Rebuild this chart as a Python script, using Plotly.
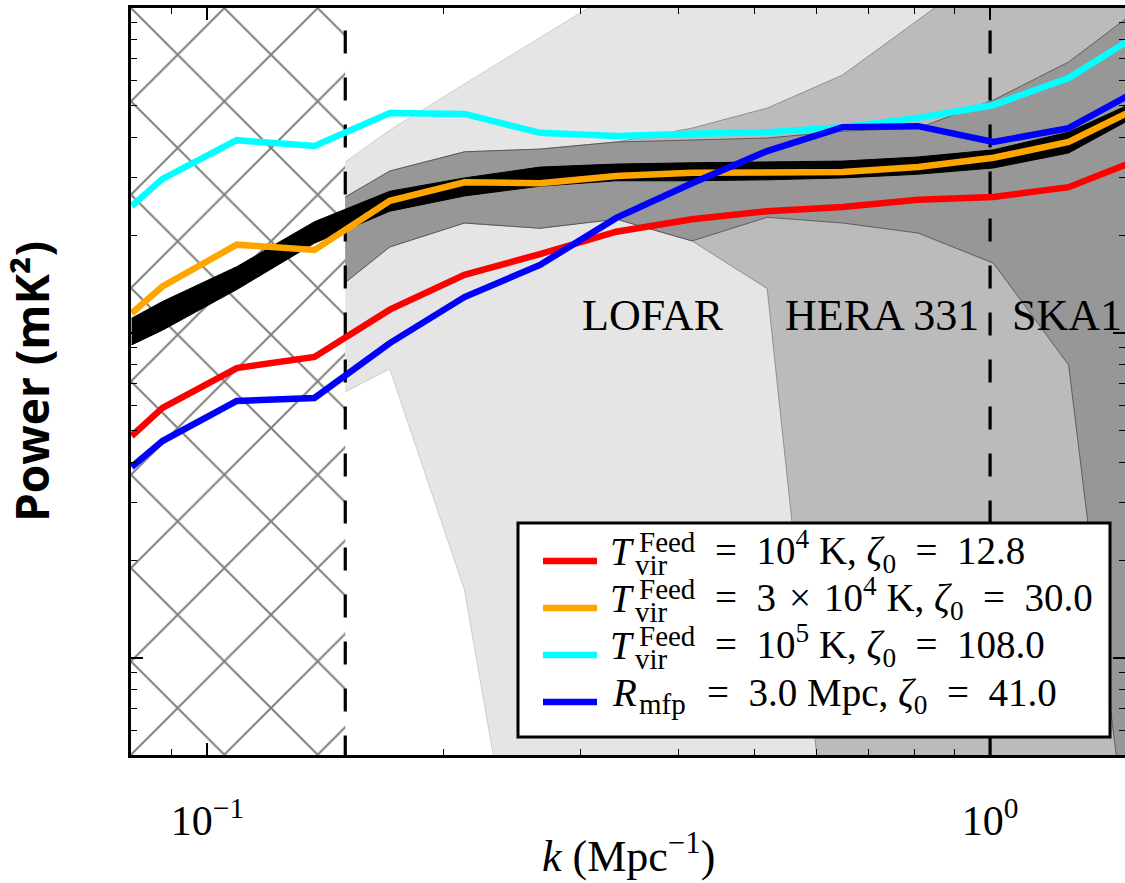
import plotly.graph_objects as go

# ---------------- data ----------------
k = [0.08, 0.0876, 0.109, 0.137, 0.171, 0.213, 0.266, 0.333, 0.416, 0.519, 0.648, 0.809, 1.01, 1.26, 1.58]
p_red = [4.82, 5.88, 7.80, 8.44, 11.8, 15.1, 17.5, 20.5, 22.4, 23.7, 24.4, 25.7, 26.2, 28.1, 34.8]
p_orange = [11.5, 13.9, 18.7, 18.0, 25.5, 29.1, 28.9, 30.4, 31.1, 31.3, 31.3, 32.4, 34.6, 38.7, 50.7]
p_cyan = [24.6, 29.8, 39.2, 37.6, 47.5, 47.2, 41.3, 40.4, 41.0, 41.5, 43.0, 45.9, 50.3, 60.9, 85.6]
p_blue = [3.87, 4.65, 6.18, 6.31, 9.31, 12.9, 16.2, 22.6, 28.9, 36.3, 43.0, 43.3, 38.7, 42.7, 57.5]
fid_hi = [11.1, 12.5, 16.0, 22.0, 27.3, 30.0, 32.4, 33.1, 33.4, 33.6, 33.8, 34.8, 36.6, 41.5, 53.2]
fid_lo = [9.19, 10.2, 13.6, 18.9, 23.7, 26.4, 28.3, 29.4, 29.4, 29.6, 30.0, 30.8, 32.2, 35.8, 48.2]

k_obs = [0.15, 0.171, 0.213, 0.266, 0.333, 0.416, 0.519, 0.648, 0.809, 1.01, 1.26, 1.58]
lofar_hi = [33.6, 42.1, 58.4, 80.9, 113, 160, 220, 300, 400, 500, 600, 700]
lofar_lo = [6.59, 7.75, 1.62, 0.075, 0.05, 0.04, 0.03, 0.02, 0.02, 0.01, 0.01, 0.01]
hera_hi = [26.2, 31.5, 36.1, 36.8, 38.7, 42.7, 49.2, 62.2, 91.8, 136, 200, 300]
hera_lo = [14.3, 18.4, 21.8, 21.0, 22.4, 19.2, 13.7, 0.09, 0.05, 0.03, 0.02, 0.01]
ska_hi = [26.2, 31.5, 36.1, 36.8, 38.7, 39.3, 39.8, 41.8, 42.7, 52.1, 68.2, 103]
ska_lo = [14.3, 18.4, 21.8, 21.0, 22.4, 19.2, 22.7, 21.8, 20.3, 16.4, 7.97, 0.091]

hatch_k = [0.05, 0.15]          # foreground-dominated region
limit_k = [0.15, 1.0]           # dashed k limits
hatch_y = [0.01, 1000]
limit_y = [119, 0.3]

series = [p_red, p_orange, p_cyan, p_blue]
colors = ["#ff0000", "#ffa500", "#00ffff", "#0000ff"]
names = ["T_vir^Feed = 1e4 K, zeta0 = 12.8", "T_vir^Feed = 3e4 K, zeta0 = 30.0",
         "T_vir^Feed = 1e5 K, zeta0 = 108.0", "R_mfp = 3.0 Mpc, zeta0 = 41.0"]

# legend texts: (main symbol, superscript, subscript, remainder)
leg_sym = ["<i>T</i>", "<i>T</i>", "<i>T</i>", "<i>R</i>"]
leg_sup = ["Feed", "Feed", "Feed", ""]
leg_sub = ["vir", "vir", "vir", "mfp"]
leg_rest = ["=\u200210<sup>4</sup> K, <i>ζ</i><sub>0</sub>\u2002=\u200212.8",
            "=\u20023\u2004×\u200410<sup>4</sup> K, <i>ζ</i><sub>0</sub>\u2002=\u200230.0",
            "=\u200210<sup>5</sup> K, <i>ζ</i><sub>0</sub>\u2002=\u2002108.0",
            "=\u20023.0 Mpc, <i>ζ</i><sub>0</sub>\u2002=\u200241.0"]

instr_names = ["LOFAR", "HERA 331", "SKA1"]

x_major = [0.1, 1]
x_major_text = ["10<sup>−1</sup>", "10<sup>0</sup>"]
x_minor = [m * 10 ** e for e in (-2, -1, 0) for m in range(2, 10)]
y_major = [1, 10, 100]
y_minor = [m * 10 ** e for e in (-1, 0, 1) for m in range(2, 10)]

SERIF = "Liberation Serif"

# ---------------- layout helpers (pixel -> paper) ----------------
L_PX, R_PX, T_PX, B_PX = 131, 1125, 8, 755


def px_x(p):
    return (p - L_PX) / (R_PX - L_PX)


def px_y(p):
    return (B_PX - p) / (B_PX - T_PX)


def band(xs, hi, lo):
    return list(xs) + list(xs)[::-1], list(hi) + list(lo)[::-1]


fig = go.Figure()

# hatched region
hx, hy = band(hatch_k, [hatch_y[1]] * 2, [hatch_y[0]] * 2)
fig.add_trace(go.Scatter(x=hx, y=hy, mode="lines", fill="toself", line=dict(width=0),
                         fillcolor="rgba(0,0,0,0)",
                         fillpattern=dict(shape="x", size=66, solidity=0.06,
                                          fgcolor="#000000", bgcolor="white"),
                         showlegend=False, hoverinfo="skip"))

# instrument sensitivity regions
for hi, lo, fc, lc in [(lofar_hi, lofar_lo, "#e5e5e5", "#c4c4c4"),
                       (hera_hi, hera_lo, "#bbbbbb", "#808080"),
                       (ska_hi, ska_lo, "#979797", "#4a4a4a")]:
    bx, by = band(k_obs, hi, lo)
    fig.add_trace(go.Scatter(x=bx, y=by, mode="lines", fill="toself", fillcolor=fc,
                             line=dict(color=lc, width=0.8), showlegend=False, hoverinfo="skip"))

# fiducial band
fx, fy = band(k, fid_hi, fid_lo)
fig.add_trace(go.Scatter(x=fx, y=fy, mode="lines", fill="toself", fillcolor="black",
                         line=dict(color="black", width=1), showlegend=False, hoverinfo="skip"))

# dashed k limits
for kv in limit_k:
    fig.add_trace(go.Scatter(x=[kv, kv], y=limit_y, mode="lines",
                             line=dict(color="black", width=3.2, dash="23px,24px"),
                             showlegend=False, hoverinfo="skip"))

# model curves
for s, c, name in zip(series, colors, names):
    fig.add_trace(go.Scatter(x=k, y=s, mode="lines", name=name, showlegend=False,
                             line=dict(color=c, width=6.5)))

# empty trace for right-hand tick axis
fig.add_trace(go.Scatter(x=[], y=[], yaxis="y2", showlegend=False))

# instrument labels
for txt, xp, anchor in zip(instr_names, [653, 882, 1124], ["center", "center", "right"]):
    fig.add_annotation(text=txt, x=px_x(xp), y=px_y(315), xref="paper", yref="paper",
                       xanchor=anchor, yanchor="middle", showarrow=False,
                       font=dict(family=SERIF, size=44, color="black"))

# x-axis title (annotation so it can sit close to the tick labels)
fig.add_annotation(text="<i>k</i> (Mpc<sup>−1</sup>)", x=0.5, y=px_y(872 - 0.414 * 44),
                   xref="paper", yref="paper", xanchor="center", yanchor="middle",
                   showarrow=False, font=dict(family=SERIF, size=44, color="black"))

# ---------------- hand-built legend ----------------
LEG_BOX = (518, 523, 1110, 737)
fig.add_shape(type="rect", xref="paper", yref="paper",
              x0=px_x(LEG_BOX[0]), x1=px_x(LEG_BOX[2]), y0=px_y(LEG_BOX[3]), y1=px_y(LEG_BOX[1]),
              line=dict(color="black", width=3), fillcolor="white", layer="above")
MS, SS = 39, 29
for i in range(4):
    base = 565 + 47 * i
    samp = 561 + 47 * i
    fig.add_shape(type="line", xref="paper", yref="paper",
                  x0=px_x(543), x1=px_x(597), y0=px_y(samp), y1=px_y(samp),
                  line=dict(color=colors[i], width=6.5), layer="above")
    sym_x = 608 if i < 3 else 610
    fig.add_annotation(text=leg_sym[i], x=px_x(sym_x), y=px_y(base - 0.3375 * MS),
                       xref="paper", yref="paper", xanchor="left", yanchor="middle",
                       showarrow=False, font=dict(family=SERIF, size=MS, color="black"))
    if leg_sup[i]:
        fig.add_annotation(text=leg_sup[i], x=px_x(637), y=px_y(base - 13 - 0.3375 * SS),
                           xref="paper", yref="paper", xanchor="left", yanchor="middle",
                           showarrow=False, font=dict(family=SERIF, size=SS, color="black"))
        sub_x, sub_dy = 633, 10
        rest_x, rest_f = 713, 0.3415
    else:
        sub_x, sub_dy = 637, 8
        rest_x, rest_f = 705, 0.265
    fig.add_annotation(text=leg_sub[i], x=px_x(sub_x), y=px_y(base + sub_dy - 0.3375 * SS),
                       xref="paper", yref="paper", xanchor="left", yanchor="middle",
                       showarrow=False, font=dict(family=SERIF, size=SS, color="black"))
    fig.add_annotation(text=leg_rest[i], x=px_x(rest_x), y=px_y(base - rest_f * MS),
                       xref="paper", yref="paper", xanchor="left", yanchor="middle",
                       showarrow=False, font=dict(family=SERIF, size=MS, color="black"))

tick_common = dict(ticks="inside", ticklen=12, tickwidth=1.6, tickcolor="black")

fig.update_layout(
    width=1125, height=883,
    margin=dict(l=L_PX, r=1125 - R_PX, t=T_PX, b=883 - B_PX),
    paper_bgcolor="white", plot_bgcolor="white",
    showlegend=False,
    xaxis=dict(type="log", range=[-1.0977, 0.1724], showgrid=False, zeroline=False,
               showline=True, linecolor="black", linewidth=3, mirror="ticks",
               tickvals=x_major, ticktext=x_major_text, ticklabelstandoff=27,
               tickfont=dict(family=SERIF, size=42, color="black"),
               minor=dict(tickvals=x_minor, ticks="inside", ticklen=6, tickwidth=1.4,
                          tickcolor="black", showgrid=False),
               **tick_common),
    yaxis=dict(type="log", range=[-0.2985, 2.0], showgrid=False, zeroline=False,
               showline=True, linecolor="black", linewidth=3, mirror=False,
               tickvals=y_major, showticklabels=False,
               minor=dict(tickvals=y_minor, ticks="inside", ticklen=6, tickwidth=1.4,
                          tickcolor="black", showgrid=False),
               title=dict(text="Power (mK²)", standoff=66,
                          font=dict(family="Open Sans", size=46, color="black", weight="bold")),
               **tick_common),
    yaxis2=dict(type="log", range=[-0.2985, 2.0], overlaying="y", side="right",
                showgrid=False, zeroline=False, showline=False, tickvals=y_major,
                showticklabels=False,
                minor=dict(tickvals=y_minor, ticks="inside", ticklen=6, tickwidth=1.4,
                           tickcolor="black", showgrid=False),
                **tick_common),
)

fig.write_html("out.html", config={"displayModeBar": False},
               post_script="document.body.style.margin='0';")
